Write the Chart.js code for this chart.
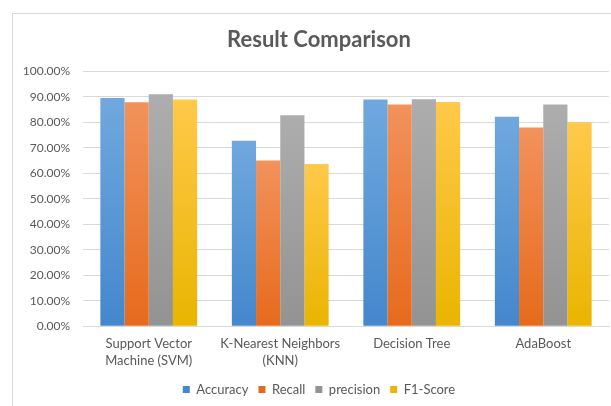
<!DOCTYPE html>
<html lang="en">
<head>
<meta charset="UTF-8">
<title>Result Comparison</title>
<style>
  html, body { margin: 0; padding: 0; background: #fff; overflow: hidden; }
  #box { position: absolute; left: 12px; top: 13px; width: 640px; height: 420px; border: 1px solid #d9d9d9; }
  canvas { display: block; }
</style>
</head>
<body>
<div id="box"><canvas id="chart" width="612" height="392"></canvas></div>
<script src="https://cdn.jsdelivr.net/npm/chart.js"></script>
<script>
const categories = [['Support Vector', 'Machine (SVM)'], ['K-Nearest Neighbors', '(KNN)'], 'Decision Tree', 'AdaBoost'];
const accuracy  = [0.896, 0.728, 0.890, 0.822];
const recall    = [0.879, 0.650, 0.870, 0.780];
const precision = [0.910, 0.828, 0.891, 0.870];
const f1Score   = [0.890, 0.637, 0.880, 0.800];

// each bar gets its own light-top / dark-bottom gradient like the Excel style
function barFill(top, bottom) {
  return function (ctx) {
    const chart = ctx.chart;
    if (!chart.chartArea || ctx.type !== 'data') return bottom;
    const y = chart.scales.y;
    const g = chart.ctx.createLinearGradient(0, y.getPixelForValue(ctx.parsed.y), 0, y.getPixelForValue(0));
    g.addColorStop(0, top);
    g.addColorStop(1, bottom);
    return g;
  };
}

// title and legend are centred on the whole box, not on the padded area
const centerBoxes = {
  id: 'centerBoxes',
  afterLayout(chart) {
    [chart.titleBlock, chart.legend].forEach(b => {
      if (b) { b.right += 16; b.width += 16; }
    });
  }
};

const font = 'Lato';
new Chart(document.getElementById('chart'), {
  type: 'bar',
  data: {
    labels: categories,
    datasets: [
      { label: 'Accuracy', data: accuracy, backgroundColor: barFill('#70a8de', '#4487cc') },
      { label: 'Recall', data: recall, backgroundColor: barFill('#f2925c', '#e66a1c') },
      { label: 'precision', data: precision, backgroundColor: barFill('#adadad', '#939393') },
      { label: 'F1-Score', data: f1Score, backgroundColor: barFill('#ffc94a', '#e9b500') }
    ]
  },
  plugins: [centerBoxes],
  options: {
    responsive: false,
    animation: false,
    layout: { padding: { left: 0, right: 16, top: 0, bottom: 0 } },
    datasets: { bar: { categoryPercentage: 0.736, barPercentage: 1 } },
    plugins: {
      title: {
        display: true, text: 'Result Comparison', color: '#595959',
        font: { family: font, size: 22, weight: 'bold' },
        padding: { top: 13, bottom: 18 }
      },
      legend: {
        position: 'bottom',
        labels: { boxWidth: 7, boxHeight: 7, padding: 10, color: '#595959', font: { family: font, size: 13 } }
      },
      tooltip: { enabled: false }
    },
    scales: {
      x: {
        afterFit: function (s) { s.height -= 6; },
        grid: { display: false, drawTicks: false },
        border: { color: '#d9d9d9' },
        ticks: { color: '#595959', padding: 9, maxRotation: 0, autoSkip: false, font: { family: font, size: 13, lineHeight: 1.34 } }
      },
      y: {
        min: 0, max: 1,
        afterFit: function (s) { s.width = 70; },
        grid: { color: '#d9d9d9', drawTicks: false },
        border: { display: false },
        ticks: {
          stepSize: 0.1, padding: 13, color: '#595959', font: { family: font, size: 12 },
          callback: v => (v * 100).toFixed(2) + '%'
        }
      }
    }
  }
});
</script>
</body>
</html>
